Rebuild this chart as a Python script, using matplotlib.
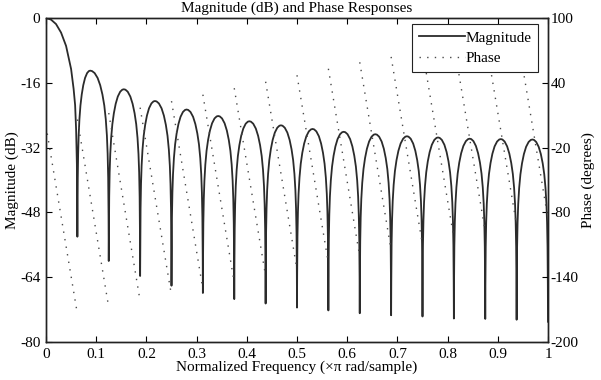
import numpy as np
import matplotlib
matplotlib.use('Agg')
import matplotlib.pyplot as plt

plt.rcParams['font.family'] = ['Liberation Serif', 'DejaVu Serif']
plt.rcParams['axes.unicode_minus'] = False

# main lobe
main_freq = [0.0, 0.01, 0.02, 0.03, 0.04, 0.05, 0.055, 0.058, 0.06, 0.0615]
main_db = [0.0, -0.4, -1.5, -3.6, -6.9, -12.6, -17.5, -21.5, -27.6, -36.0]

# dips of the magnitude curve
null_freq = [0.0625, 0.125, 0.1875, 0.25, 0.3125, 0.375, 0.4375, 0.5,
             0.5625, 0.625, 0.6875, 0.75, 0.8125, 0.875, 0.9375, 1.0]
null_db = [-54.0, -60.0, -63.7, -66.1, -67.9, -69.4, -70.5, -71.5,
           -72.2, -72.9, -73.4, -73.7, -74.2, -74.3, -74.5, -75.0]

# side lobe tops
peak_freq = [0.088, 0.155, 0.217, 0.280, 0.343, 0.405, 0.468, 0.531,
             0.593, 0.656, 0.719, 0.781, 0.844, 0.906, 0.969]
peak_db = [-13.0, -17.6, -20.5, -22.6, -24.2, -25.5, -26.5, -27.4,
           -28.1, -28.7, -29.2, -29.5, -29.8, -29.9, -30.0]

# shape of one half of a side lobe (fraction of half width, dB below top)
half_pos = [0.01, 0.03, 0.06, 0.10, 0.16, 0.24, 0.34, 0.46, 0.60, 0.76, 0.90, 1.0]
half_drop = [-36.0, -26.5, -20.5, -16.0, -12.0, -8.6, -5.9, -3.6, -1.8, -0.6, -0.1, 0.0]

# phase: one straight piece per lobe (degrees at lobe start / lobe end)
phase_start = [0, 6, 12, 17, 23, 29, 35, 41, 47, 53, 59, 64, 70, 76, 82, 88]
phase_end = [-174, -168, -162, -157, -151, -145, -139, -133, -127, -121,
             -115, -110, -104, -98, -92, -86]

# build magnitude polyline
mag_f = list(main_freq)
mag_db = list(main_db)
for k in range(len(peak_freq)):
    mag_f.append(null_freq[k])
    mag_db.append(null_db[k])
    left, top, right = null_freq[k], peak_freq[k], null_freq[k + 1]
    for p, d in zip(half_pos, half_drop):
        mag_f.append(left + p * (top - left))
        mag_db.append(peak_db[k] + d)
    for p, d in zip(half_pos[-2::-1], half_drop[-2::-1]):
        mag_f.append(right - p * (right - top))
        mag_db.append(peak_db[k] + d)
mag_f.append(null_freq[-1])
mag_db.append(null_db[-1])

edges = [0.0] + null_freq

fig = plt.figure(figsize=(6.01, 3.80), dpi=100)
ax = fig.add_axes([46 / 601, 1 - 342 / 380, 502 / 601, 324 / 380])
ax2 = ax.twinx()

l1, = ax.plot(mag_f, mag_db, color='#2b2b2b', lw=1.3, label='Magnitude')
for k in range(len(phase_start)):
    l2, = ax2.plot([edges[k], edges[k + 1]], [phase_start[k], phase_end[k]],
                   color='#4a4a4a', lw=1.0, linestyle=(0, (1, 4.5)), label='Phase')

ax.set_xlim(0, 1)
ax.set_ylim(-80, 0)
ax2.set_ylim(-200, 100)
ax.set_xticks(np.arange(0, 1.01, 0.1))
ax.set_xticklabels(['0', '0.1', '0.2', '0.3', '0.4', '0.5', '0.6', '0.7', '0.8', '0.9', '1'])
ax.set_yticks([0, -16, -32, -48, -64, -80])
ax2.set_yticks([100, 40, -20, -80, -140, -200])

for a in (ax, ax2):
    for s in a.spines.values():
        s.set_linewidth(1.0)
        s.set_color('#222222')
ax.tick_params(direction='in', length=4, width=0.8, labelsize=11, pad=4,
               top=True, right=False)
ax2.tick_params(direction='in', length=4, width=0.8, labelsize=11, pad=2)

ax.set_xlabel('Normalized Frequency (\u00d7\u03c0 rad/sample)', fontsize=11, labelpad=0)
ax.set_ylabel('Magnitude (dB)', fontsize=11, labelpad=1)
ax2.set_ylabel('Phase (degrees)', fontsize=11, rotation=90, labelpad=2)
fig.text(297 / 601, 1 - 12 / 380, 'Magnitude (dB) and Phase Responses',
         ha='center', va='baseline', fontsize=11)

leg = ax2.legend([l1, l2], ['Magnitude', 'Phase'], loc='upper right',
                 bbox_to_anchor=(538 / 601, 1 - 24 / 380), bbox_transform=fig.transFigure,
                 fontsize=11, fancybox=False, framealpha=1, edgecolor='#222222',
                 handlelength=3.0, handletextpad=0.0, borderpad=0.45, labelspacing=0.45,
                 borderaxespad=0)
leg.get_frame().set_linewidth(0.8)

fig.savefig('out.png', dpi=100)
